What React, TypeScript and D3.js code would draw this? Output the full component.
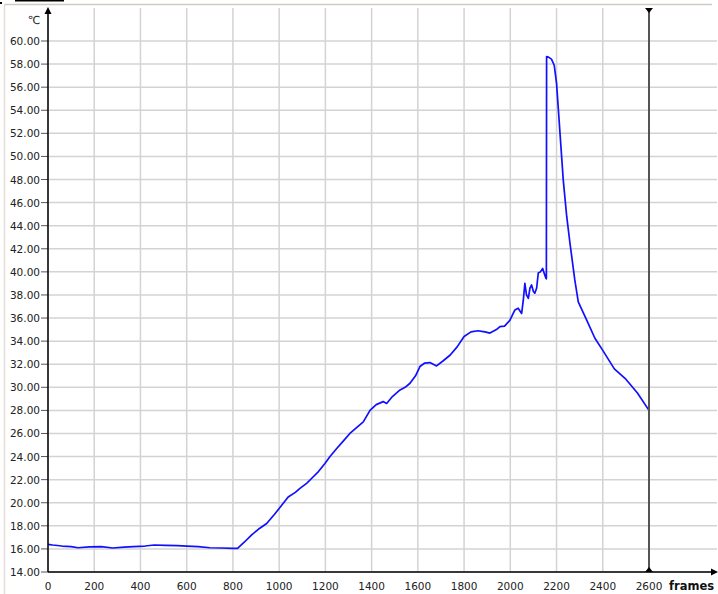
import React from "react";
import * as d3 from "d3";

const frames = [0, 20, 60, 100, 130, 180, 230, 280, 330, 370, 420, 460, 510, 560, 600, 650, 700, 750, 800, 820,
  850, 880, 910, 946, 980, 1000, 1039, 1070, 1090, 1120, 1140, 1170, 1198, 1220, 1249, 1280, 1306, 1340, 1364, 1393,
  1420, 1450, 1465, 1490, 1523, 1545, 1566, 1590, 1609, 1630, 1652, 1681, 1710, 1740, 1770, 1800, 1830, 1860, 1890,
  1912, 1940, 1955, 1975, 1998, 2010, 2020, 2034, 2049, 2056, 2063, 2070, 2078, 2085, 2092, 2100, 2106, 2114, 2121,
  2130, 2140, 2148, 2154, 2156, 2157, 2165, 2178, 2190, 2200, 2215, 2229, 2244, 2258, 2279, 2294, 2330, 2366, 2400,
  2450, 2500, 2550, 2600];
const temps = [16.4, 16.34, 16.25, 16.2, 16.1, 16.18, 16.2, 16.08, 16.15, 16.2, 16.25, 16.34, 16.3, 16.28, 16.25, 16.2, 16.1, 16.08, 16.05, 16.05,
  16.6, 17.2, 17.7, 18.2, 19.0, 19.5, 20.5, 20.9, 21.25, 21.7, 22.1, 22.7, 23.4, 24.0, 24.7, 25.4, 26.0, 26.6, 27.0, 28.0,
  28.5, 28.76, 28.6, 29.2, 29.77, 30.0, 30.35, 31.0, 31.8, 32.1, 32.14, 31.85, 32.3, 32.8, 33.5, 34.4, 34.8, 34.9, 34.8,
  34.7, 35.0, 35.26, 35.3, 35.8, 36.3, 36.7, 36.85, 36.4, 37.5, 39.0, 38.0, 37.7, 38.6, 38.87, 38.3, 38.15, 38.6, 39.9,
  40.0, 40.3, 39.8, 39.45, 39.4, 58.65, 58.6, 58.43, 57.9, 56.35, 52.0, 47.97, 44.8, 42.5, 39.3, 37.4, 35.84, 34.25, 33.2,
  31.6, 30.7, 29.5, 28.0];

const xTicks = d3.range(0, 2601, 200);
const yTicks = d3.range(14, 60.001, 2);
const cursorFrame = 2600;

export default function App() {
  const W = 718, H = 594;
  const x = d3.scaleLinear().domain([0, 2600]).range([48, 649]);
  const y = d3.scaleLinear().domain([14, 60]).range([572, 41]);
  const top = 8;
  const right = 717;
  const line = d3.line<number>().x((_, i) => x(frames[i])).y((d) => y(d));
  const font = "Verdana, 'DejaVu Sans', sans-serif";
  const cx = x(cursorFrame);
  return (
    <svg width={W} height={H} style={{ position: "absolute", left: 0, top: 0, background: "#fff" }}>
      <rect x={0} y={0} width={W} height={H} fill="#fff" />
      {/* window chrome */}
      <line x1={4} y1={4.5} x2={712} y2={4.5} stroke="#cfcac2" strokeWidth={1.5} />
      <line x1={4.5} y1={4} x2={4.5} y2={H} stroke="#e2ddd6" strokeWidth={1.5} />
      <rect x={15} y={0} width={49} height={1.5} fill="#000" />
      <rect x={0} y={2} width={2} height={2} fill="#000" />
      {/* grid */}
      {xTicks.map((t) => (
        <line key={"gx" + t} x1={x(t)} x2={x(t)} y1={top} y2={572} stroke="#d3d3d3" strokeWidth={1.5} />
      ))}
      {yTicks.map((t) => (
        <line key={"gy" + t} x1={48} x2={right} y1={y(t)} y2={y(t)} stroke="#d3d3d3" strokeWidth={1.5} />
      ))}
      {/* y ticks and labels */}
      {yTicks.map((t) => (
        <g key={"ty" + t}>
          <line x1={41} x2={48} y1={y(t)} y2={y(t)} stroke="#555" strokeWidth={1} />
          <text x={40} y={y(t) + 4} textAnchor="end" fontSize={10.5} fontFamily={font} fill="#222">
            {t.toFixed(2)}
          </text>
        </g>
      ))}
      {xTicks.map((t) => (
        <text key={"tx" + t} x={x(t)} y={590} textAnchor="middle" fontSize={10.5} fontFamily={font} fill="#222">
          {t}
        </text>
      ))}
      <text x={40} y={24} textAnchor="end" fontSize={11} fontFamily={font} fill="#222">℃</text>
      <text x={669} y={590} fontSize={11.5} fontWeight="bold" fontFamily={font} fill="#111">frames</text>
      {/* data line */}
      <path d={line(temps) || ""} fill="none" stroke="#1010ff" strokeWidth={1.7} strokeLinejoin="round" />
      {/* axes */}
      <line x1={48} x2={48} y1={12} y2={572} stroke="#000" strokeWidth={1.5} />
      <path d={`M48,7 L44.5,14 L51.5,14 Z`} fill="#000" />
      <line x1={48} x2={712} y1={572} y2={572} stroke="#000" strokeWidth={1.5} />
      <path d={`M718,572 L711,568.5 L711,575.5 Z`} fill="#000" />
      {/* cursor */}
      <line x1={cx} x2={cx} y1={top} y2={572} stroke="#555" strokeWidth={2} />
      <path d={`M${cx - 4},8 L${cx + 4},8 L${cx},13 Z`} fill="#000" />
      <path d={`M${cx - 4},572 L${cx + 4},572 L${cx},567 Z`} fill="#000" />
    </svg>
  );
}
